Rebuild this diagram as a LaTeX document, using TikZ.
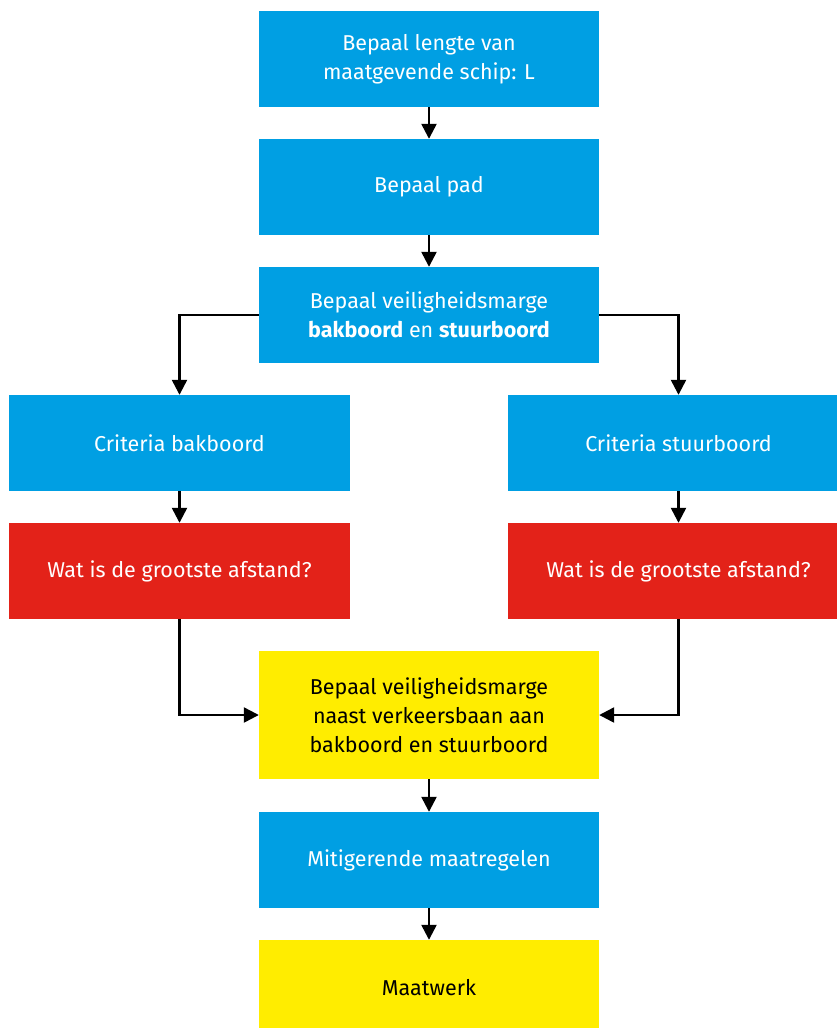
\documentclass[tikz,border=0pt]{standalone}
\usepackage{fontspec}
\setmainfont{Fira Sans}
\usetikzlibrary{arrows.meta}
\definecolor{rwsblue}{HTML}{009FE3}
\definecolor{rwsred}{HTML}{E32219}
\definecolor{rwsyellow}{HTML}{FFED00}
\tikzset{
  box/.style={rectangle, inner sep=0pt, minimum width=340pt, minimum height=96pt, align=center,
    font=\fontsize{21.5}{29}\selectfont},
  bluebox/.style={box, fill=rwsblue, text=white},
  redbox/.style={box, fill=rwsred, text=white},
  yellowbox/.style={box, fill=rwsyellow, text=black},
  conn/.style={draw=black, line width=2.4pt, -{Triangle[length=15pt,width=15pt]}}
}
\begin{document}
\begin{tikzpicture}[x=1pt,y=1pt]
\useasboundingbox (0,0) rectangle (837,-1028);
\node[bluebox] (b1) at (429,-59) {Bepaal lengte van\\maatgevende schip: L};
\node[bluebox] (b2) at (429,-187) {Bepaal pad};
\node[bluebox] (b3) at (429,-315) {Bepaal veiligheidsmarge\\\textbf{bakboord} en \textbf{stuurboord}};
\node[bluebox, minimum width=341pt] (b4) at (179.5,-443) {Criteria bakboord};
\node[bluebox, minimum width=341pt] (b5) at (678.5,-443) {Criteria stuurboord};
\node[redbox, minimum width=341pt] (b6) at (179.5,-571) {Wat is de grootste afstand?};
\node[redbox, minimum width=341pt] (b7) at (678.5,-571) {Wat is de grootste afstand?};
\node[yellowbox, minimum height=128pt] (b8) at (429,-715) {Bepaal veiligheidsmarge\\naast verkeersbaan aan\\bakboord en stuurboord};
\node[bluebox] (b9) at (429,-860) {Mitigerende maatregelen};
\node[yellowbox] (b10) at (429,-988) {Maatwerk};
\draw[conn] (b1) -- (b2);
\draw[conn] (b2) -- (b3);
\draw[conn] (b3.west) -| (b4.north);
\draw[conn] (b3.east) -| (b5.north);
\draw[conn] (b4) -- (b6);
\draw[conn] (b5) -- (b7);
\draw[conn] (b6.south) |- (b8.west);
\draw[conn] (b7.south) |- (b8.east);
\draw[conn] (b8) -- (b9);
\draw[conn] (b9) -- (b10);
\end{tikzpicture}
\end{document}
